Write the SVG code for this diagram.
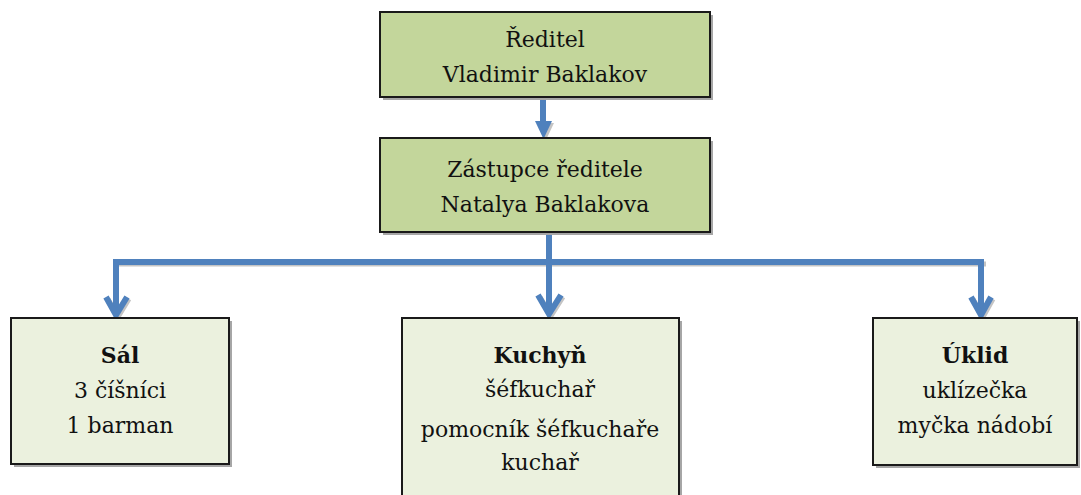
<svg xmlns="http://www.w3.org/2000/svg" width="1081" height="495" viewBox="0 0 1081 495">
<style>
.top{fill:#c3d69b;stroke:#1a1a1a;stroke-width:2}
.sub{fill:#ebf1de;stroke:#1a1a1a;stroke-width:2}
.sh{fill:#a6a6a6}
.t{font-size:22px;fill:#111;text-anchor:middle}
.b{font-weight:bold}
.ln{fill:none;stroke:#4f81bd;stroke-width:6}
.lns{fill:none;stroke:#c4c4c4;stroke-width:5}
.ah{fill:none;stroke:#4f81bd;stroke-width:6;stroke-linejoin:miter}
.ahs{fill:none;stroke:#c4c4c4;stroke-width:5;stroke-linejoin:miter}
.tri{fill:#4f81bd}
</style>
<rect width="1081" height="495" fill="#fff"/>
<g id="connectors">
<path class="lns" d="M118,264 H986"/>
<path class="ahs" d="M108,299 L118,317 L129,299 M540,297 L551,316 L563,297 M973,299 L983,317 L993,299"/>
<polygon fill="#c4c4c4" points="537,123 554,123 545.5,141"/>
<path class="ln" d="M543,97 V123"/>
<polygon class="tri" points="535,121 552,121 543.5,139"/>
<path class="ln" d="M549,232 V313"/>
<path class="ln" d="M113,262 H984"/>
<path class="ln" d="M116,259 V313"/>
<path class="ln" d="M981,259 V313"/>
<path class="ah" d="M106,297 L116,315 L127,297"/>
<path class="ah" d="M538,295 L549,314 L561,295"/>
<path class="ah" d="M971,297 L981,315 L991,297"/>
</g>
<g id="reditel">
<rect class="sh" x="383" y="15" width="330" height="85"/>
<rect class="top" x="380" y="12" width="330" height="85"/>
<text class="t" x="545" y="47" style="font-family:'DejaVu Serif'">Ředitel</text>
<text class="t" x="545" y="82" style="font-family:'DejaVu Serif'">Vladimir Baklakov</text>
</g>
<g id="zastupce">
<rect class="sh" x="383" y="141" width="330" height="94"/>
<rect class="top" x="380" y="138" width="330" height="94"/>
<text class="t" x="545" y="177" style="font-family:'DejaVu Serif'">Zástupce ředitele</text>
<text class="t" x="545" y="212" style="font-family:'DejaVu Serif'">Natalya Baklakova</text>
</g>
<g id="sal">
<rect class="sh" x="14" y="321" width="218" height="146"/>
<rect class="sub" x="11" y="318" width="218" height="146"/>
<text class="t b" x="120" y="363" style="font-family:'DejaVu Serif'">Sál</text>
<text class="t" x="120" y="398" style="font-family:'DejaVu Serif'">3 číšníci</text>
<text class="t" x="120" y="433" style="font-family:'DejaVu Serif'">1 barman</text>
</g>
<g id="kuchyn">
<rect class="sh" x="405" y="321" width="277" height="190"/>
<rect class="sub" x="402" y="318" width="277" height="190"/>
<text class="t b" x="540" y="363" style="font-family:'DejaVu Serif'">Kuchyň</text>
<text class="t" x="540" y="397" style="font-family:'DejaVu Serif'">šéfkuchař</text>
<text class="t" x="540" y="437" style="font-family:'DejaVu Serif'">pomocník šéfkuchaře</text>
<text class="t" x="540" y="470" style="font-family:'DejaVu Serif'">kuchař</text>
</g>
<g id="uklid">
<rect class="sh" x="876" y="321" width="204" height="147"/>
<rect class="sub" x="873" y="318" width="204" height="147"/>
<text class="t b" x="975" y="363" style="font-family:'DejaVu Serif'">Úklid</text>
<text class="t" x="975" y="398" style="font-family:'DejaVu Serif'">uklízečka</text>
<text class="t" x="975" y="433" style="font-family:'DejaVu Serif'">myčka nádobí</text>
</g>
</svg>
